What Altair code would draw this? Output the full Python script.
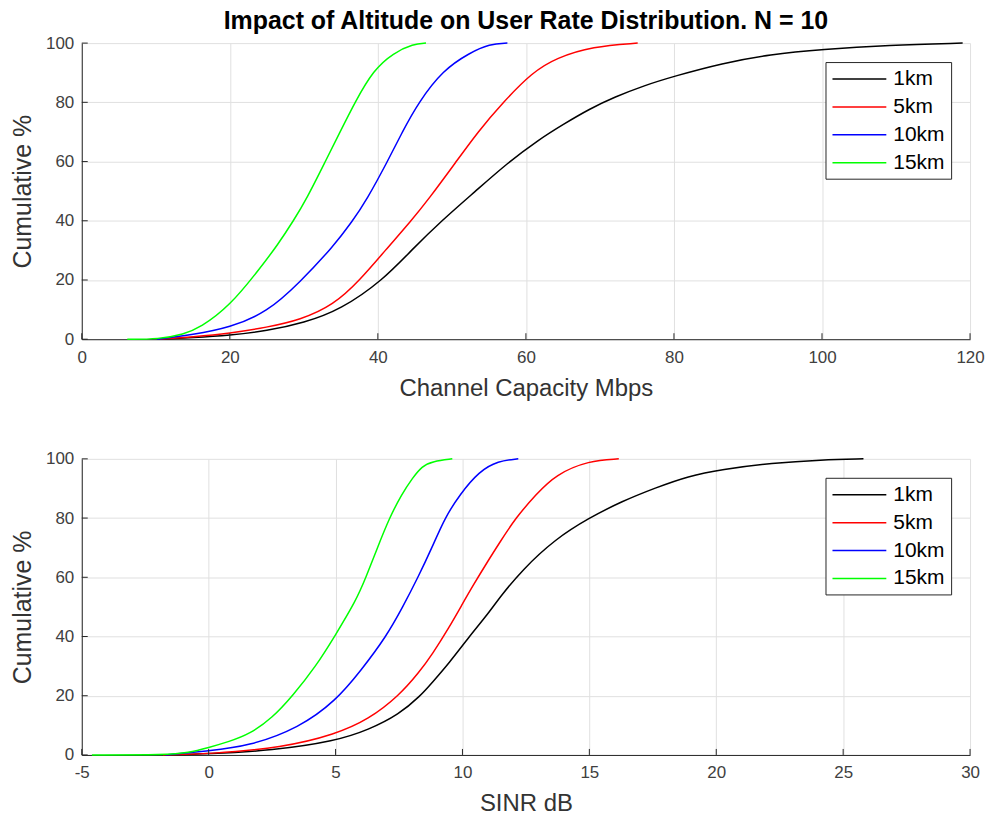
import altair as alt
import pandas as pd

series = ["1km", "5km", "10km", "15km"]
colors = ["#000000", "#ff0000", "#0000ff", "#00ff00"]

# Channel capacity CDFs (Mbps, cumulative %)
cap_1_x = [10.5, 15, 20, 25, 30, 35, 40.7, 44.5, 48.6, 53.2, 57.5, 61.8, 65, 68.6, 72, 76, 80, 86.5, 93, 100, 109, 119]
cap_1_y = [0, 0.5, 1.3, 2.8, 5.5, 10, 20, 30, 40, 50, 59.5, 67.5, 72.5, 77.8, 81.8, 85.7, 88.8, 93.2, 96.2, 97.9, 99.3, 100]
cap_5_x = [10.5, 15, 20, 25, 29.5, 34, 37.6, 41, 44.5, 46.8, 50.6, 53.5, 56.9, 60.9, 64.1, 69, 75.1]
cap_5_y = [0, 0.8, 2.0, 4.0, 6.5, 11.5, 20, 30, 40, 47.1, 60, 70, 80, 90.2, 95, 98.9, 100]
cap_10_x = [10.2, 15, 20, 25, 29.5, 34, 36.5, 38.5, 41.3, 43.3, 45.5, 48.8, 52.4, 55.1, 57.5]
cap_10_y = [0, 1.5, 3.9, 9, 19.3, 31.4, 39.6, 47.1, 60, 70, 80, 90.9, 96.7, 99.7, 100]
cap_15_x = [6.15, 10.4, 13.8, 16, 20, 24.1, 26.5, 28.6, 30.4, 32.9, 34.9, 36.9, 39.4, 42.1, 44.8, 46.5]
cap_15_y = [0, 0, 1.7, 3.9, 11.2, 24, 32, 40, 47.5, 60, 70, 80, 90.9, 96.7, 99.7, 100]

# SINR CDFs (dB, cumulative %)
sinr_1_x = [-1.8, 0, 2.5, 5, 6.3, 7.5, 8.35, 8.81, 9.47, 10.27, 11.04, 11.45, 12.35, 13.67, 14.98, 16.29, 17.6, 18.9, 20.2, 22.2, 24.15, 25.8]
sinr_1_y = [0, 0.3, 1.5, 4.7, 8.5, 13.7, 20, 24.5, 31, 40, 48, 53, 62.5, 73, 80, 85.7, 90.2, 94.2, 96.4, 98.6, 99.7, 100]
sinr_5_x = [-1.8, 0, 2.93, 5, 6.3, 7.5, 8.3, 8.81, 9.47, 10.0, 10.4, 11.04, 11.45, 12.09, 12.9, 13.67, 14.98, 16.16]
sinr_5_y = [0, 0.3, 2.5, 7, 12, 20, 28, 34, 43, 51, 57, 66, 71.5, 80, 88, 94.7, 99.4, 100]
sinr_10_x = [-1.7, 0, 1.61, 3.57, 5, 6.0, 7.0, 7.65, 8.25, 8.8, 9.3, 9.9, 10.66, 11.4, 12.2]
sinr_10_y = [0, 1.35, 3, 9.2, 18.2, 28.5, 40, 50, 60, 70, 80, 88, 95.8, 99.3, 100]
sinr_15_x = [-4.6, -1.66, -0.8, 0, 0.8, 1.61, 2.52, 3.31, 4.23, 4.96, 5.8, 6.2, 6.65, 7.12, 7.6, 8.04, 8.4, 8.83, 9.6]
sinr_15_y = [0, 0, 0.7, 2.5, 4.5, 7, 12.6, 20, 30, 40, 52, 60, 70, 80, 88, 93.6, 97.5, 99.2, 100]

cap_ticks = [0, 20, 40, 60, 80, 100, 120]
sinr_ticks = [-5, 0, 5, 10, 15, 20, 25, 30]
pct_ticks = [0, 20, 40, 60, 80, 100]

W, H = 891, 297
FONT = "Liberation Sans"
DARK = "#262626"


def make_df(xs, ys):
    rows = []
    for name, x, y in zip(series, xs, ys):
        for i, (a, b) in enumerate(zip(x, y)):
            rows.append({"series": name, "x": a, "y": b, "idx": i})
    return pd.DataFrame(rows)


cap_df = make_df([cap_1_x, cap_5_x, cap_10_x, cap_15_x], [cap_1_y, cap_5_y, cap_10_y, cap_15_y])
sinr_df = make_df([sinr_1_x, sinr_5_x, sinr_10_x, sinr_15_x], [sinr_1_y, sinr_5_y, sinr_10_y, sinr_15_y])


def panel(df, xdom, xticks, xtitle, title=None):
    xaxis = alt.Axis(values=xticks, title=xtitle, ticks=False, tickSize=0,
                     labelPadding=10, titlePadding=11, titleFontSize=24,
                     labelExpr="'' + datum.value", labelFlush=False)
    yaxis = alt.Axis(values=pct_ticks, title="Cumulative %", ticks=False, tickSize=0,
                     labelPadding=8, titlePadding=10, labelFlush=False)
    xs = alt.Scale(domain=xdom, nice=False, zero=False)
    ys = alt.Scale(domain=[0, 100], nice=False)

    lines = alt.Chart(df).mark_line(strokeWidth=1.5, interpolate="basis").encode(
        x=alt.X("x:Q", scale=xs, axis=xaxis, title=xtitle),
        y=alt.Y("y:Q", scale=ys, axis=yaxis, title="Cumulative %"),
        color=alt.Color("series:N", scale=alt.Scale(domain=series, range=colors),
                        legend=alt.Legend(title=None, orient="none", legendX=746, legendY=19,
                                          strokeColor=DARK, fillColor="white", padding=6,
                                          symbolType="M-1,0H4.4", symbolSize=400,
                                          symbolStrokeWidth=1.5, labelFontSize=21,
                                          labelFont=FONT, labelColor="#000000",
                                          labelOffset=40, rowPadding=7)),
        order="idx:Q",
    )
    xt = alt.Chart(pd.DataFrame({"x": xticks})).mark_rule(color=DARK, strokeWidth=1).encode(
        x=alt.X("x:Q", scale=xs, title=xtitle), y=alt.value(H), y2=alt.value(H - 6))
    yt = alt.Chart(pd.DataFrame({"y": pct_ticks})).mark_rule(color=DARK, strokeWidth=1).encode(
        y=alt.Y("y:Q", scale=ys, title="Cumulative %"), x=alt.value(0), x2=alt.value(6))
    props = dict(width=W, height=H)
    if title is not None:
        props["title"] = alt.TitleParams(title, frame="group", anchor="middle", fontSize=25,
                                         font=FONT, fontWeight="bold", color="#000000", offset=0)
    return alt.layer(lines, xt, yt).properties(**props)


top = panel(cap_df, [0, 120], cap_ticks, "Channel Capacity Mbps",
            title="Impact of Altitude on User Rate Distribution. N = 10")
bottom = panel(sinr_df, [-5, 30], sinr_ticks, "SINR dB")

chart = alt.vconcat(top, bottom, spacing=50).resolve_scale(color="independent").properties(
    padding={"left": 10, "top": 8, "right": 5, "bottom": 0}, background="white"
).configure_view(stroke=None).configure_axis(
    grid=True, gridColor="#e0e0e0", gridWidth=1, domainColor=DARK, domainWidth=1,
    labelFont=FONT, labelFontSize=17, labelColor="#404040",
    titleFont=FONT, titleFontSize=25, titleFontWeight="normal", titleColor="#333333",
)

chart.save("out.html", embed_options={"renderer": "svg", "actions": False})
